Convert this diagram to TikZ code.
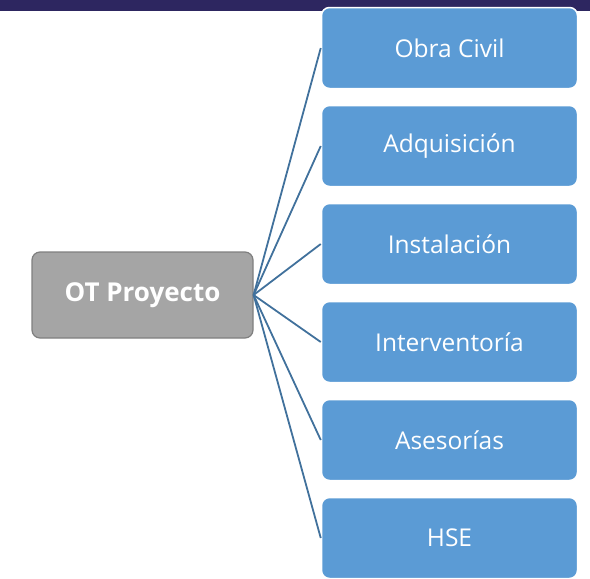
\documentclass[tikz,border=0pt]{standalone}
\usepackage{fontspec}
\setmainfont{Open Sans}
\definecolor{azulcaja}{HTML}{5B9BD5}
\definecolor{azullinea}{HTML}{41719C}
\definecolor{griscaja}{HTML}{A5A5A5}
\definecolor{grisborde}{HTML}{7F7F7F}
\definecolor{barranavy}{HTML}{2D2660}
\tikzset{
    cajaot/.style={draw=grisborde, line width=1.2pt, fill=griscaja, rounded corners=8pt,
        minimum width=221pt, minimum height=86pt, inner sep=0pt,
        text=white, font=\fontsize{26}{30}\selectfont\bfseries},
    cajarama/.style={draw=white, line width=1.5pt, fill=azulcaja, rounded corners=8pt,
        minimum width=256pt, minimum height=81pt, inner sep=0pt,
        text=white, font=\fontsize{24.5}{28}\selectfont},
    conector/.style={draw=azullinea, line width=1.8pt}
}
\begin{document}
\begin{tikzpicture}[x=1pt, y=-1pt]

    % Fijamos el marco
    \useasboundingbox (0,0) rectangle (590,579);

    % Pintamos la barra superior
    \fill[barranavy] (0,0) rectangle (590,10.5);

    % Caja principal
    \node[cajaot] (ot) at (142.5,295) {OT Proyecto};

    % Cajas de la derecha y sus conectores
    \foreach \nombre [count=\i] in {Obra Civil,Adquisición,Instalación,Interventoría,Asesorías,HSE}
        \node[cajarama] (rama\i) at (449.5,{48+98*(\i-1)}) {\nombre};
    \foreach \i in {1,...,6}
        \draw[conector] (ot.east) -- (rama\i.west);

\end{tikzpicture}
\end{document}
